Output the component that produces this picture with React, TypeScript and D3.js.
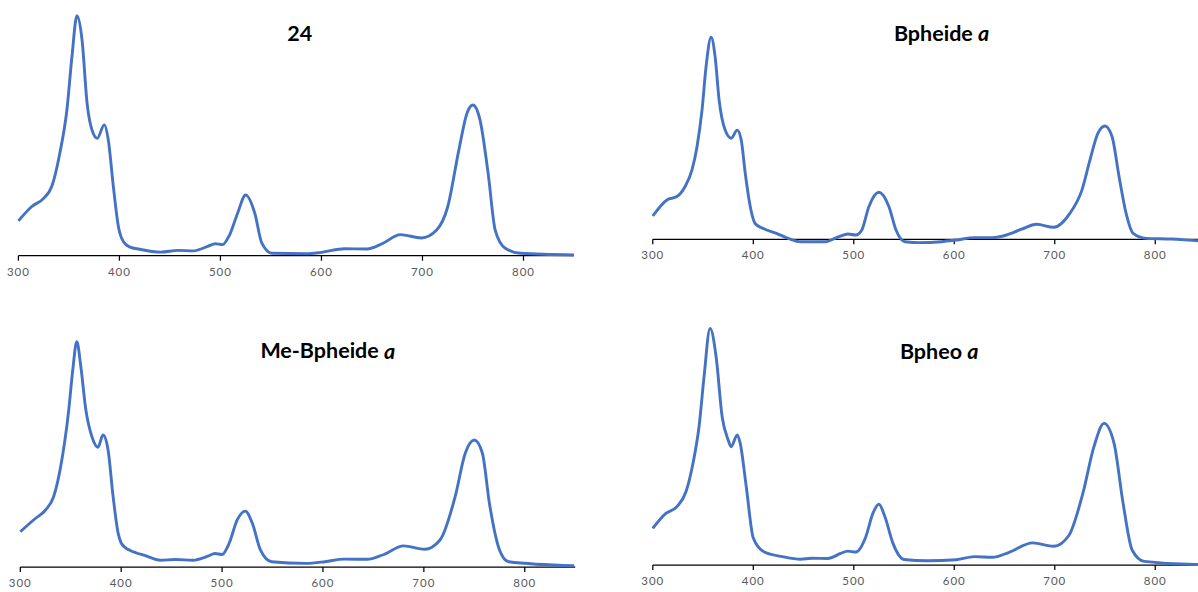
import React from "react";
import * as d3 from "d3";

// absorption spectra, wavelength (nm) vs. relative absorbance
const wl24 = [300, 313, 325, 333, 341, 348, 353, 358, 363, 368, 374, 378, 385, 389, 394, 399, 404, 410, 420, 441, 458, 473, 488, 495, 502, 509, 517, 525, 534, 541, 551, 585, 600, 623, 645, 661, 678, 699, 714, 725, 736, 744, 750, 757, 765, 772, 782, 797, 850];
const abs24 = [0.145, 0.204, 0.239, 0.288, 0.427, 0.607, 0.829, 1.0, 0.899, 0.635, 0.51, 0.489, 0.545, 0.482, 0.288, 0.121, 0.058, 0.037, 0.027, 0.015, 0.022, 0.02, 0.04, 0.05, 0.046, 0.086, 0.177, 0.253, 0.177, 0.052, 0.01, 0.008, 0.014, 0.029, 0.028, 0.052, 0.088, 0.074, 0.107, 0.204, 0.44, 0.593, 0.628, 0.565, 0.343, 0.107, 0.031, 0.01, 0.003];

const wlBpheide = [300, 314, 324, 332, 339, 344, 349, 353, 358, 362, 366, 372, 378, 384, 388, 392, 397, 402, 410, 423, 436, 447, 472, 479, 486, 494, 502, 508, 515, 525, 535, 542, 551, 566, 587, 602, 620, 638, 652, 667, 682, 699, 715, 727, 735, 743, 750, 757, 764, 771, 778, 791, 816, 843, 850];
const absBpheide = [0.097, 0.164, 0.178, 0.219, 0.289, 0.386, 0.539, 0.719, 0.842, 0.761, 0.58, 0.455, 0.421, 0.455, 0.414, 0.275, 0.136, 0.065, 0.045, 0.025, 0.002, -0.01, -0.01, 0, 0.012, 0.022, 0.018, 0.039, 0.136, 0.196, 0.136, 0.039, -0.01, -0.014, -0.01, -0.003, 0.007, 0.007, 0.018, 0.042, 0.0625, 0.05, 0.108, 0.205, 0.33, 0.442, 0.472, 0.428, 0.261, 0.108, 0.025, 0.004, 0.001, -0.006, -0.007];

const wlMeBpheide = [300, 314, 325, 333, 340, 348, 352, 356, 360, 365, 371, 377, 382, 387, 392, 397, 400, 405, 409, 424, 439, 454, 471, 486, 493, 500, 507, 515, 523, 530, 538, 549, 583, 602, 621, 644, 659, 680, 701, 716, 731, 741, 750, 758, 765, 775, 784, 849];
const absMeBpheide = [0.147, 0.199, 0.2375, 0.293, 0.418, 0.654, 0.821, 0.939, 0.835, 0.654, 0.543, 0.499, 0.55, 0.4875, 0.293, 0.14, 0.1, 0.078, 0.069, 0.047, 0.028, 0.031, 0.028, 0.045, 0.056, 0.052, 0.099, 0.196, 0.233, 0.182, 0.071, 0.022, 0.015, 0.022, 0.033, 0.032, 0.05, 0.088, 0.074, 0.1125, 0.293, 0.474, 0.529, 0.474, 0.265, 0.071, 0.022, 0.005];

const wlBpheo = [300, 313, 324, 333, 340, 346, 351, 357, 363, 369, 375, 378, 384, 387, 393, 400, 411, 429, 447, 458, 474, 487, 494, 502, 512, 519, 525, 531, 539, 550, 573, 602, 620, 638, 654, 678, 699, 714, 728, 739, 749, 759, 768, 777, 789, 840, 850];
const absBpheo = [0.153, 0.215, 0.243, 0.305, 0.424, 0.576, 0.785, 0.986, 0.868, 0.618, 0.521, 0.493, 0.542, 0.507, 0.326, 0.1125, 0.054, 0.035, 0.024, 0.028, 0.027, 0.048, 0.058, 0.054, 0.118, 0.215, 0.253, 0.201, 0.09, 0.023, 0.018, 0.022, 0.035, 0.032, 0.052, 0.092, 0.078, 0.123, 0.299, 0.493, 0.59, 0.507, 0.257, 0.0625, 0.015, 0.002, 0.002];

const xTicks = [300, 400, 500, 600, 700, 800];

const panels = [
  { key: "24", name: "24", italic: "", wl: wl24, abs: abs24, x0: 18.4, x1: 574, axisY: 255.7, tx: 299.7, ty: 35 },
  { key: "bpheide", name: "Bpheide ", italic: "a", wl: wlBpheide, abs: absBpheide, x0: 652.8, x1: 1205.5, axisY: 239.3, tx: 941.6, ty: 35 },
  { key: "mebpheide", name: "Me-Bpheide ", italic: "a", wl: wlMeBpheide, abs: absMeBpheide, x0: 20.3, x1: 575.2, axisY: 567, tx: 327.8, ty: 352.7 },
  { key: "bpheo", name: "Bpheo ", italic: "a", wl: wlBpheo, abs: absBpheo, x0: 652.8, x1: 1205.5, axisY: 565, tx: 939.2, ty: 353.3 },
];

function Spectrum({ p }) {
  const xScale = d3.scaleLinear().domain([300, 850]).range([p.x0, p.x1]);
  const yScale = d3.scaleLinear().domain([0, 1]).range([p.axisY, p.axisY - 240]);
  const line = d3
    .line<number>()
    .x((d, i) => xScale(p.wl[i]))
    .y((d) => yScale(d))
    .curve(d3.curveMonotoneX);

  return (
    <g>
      {/* x axis */}
      <line x1={xScale(300)} x2={xScale(850)} y1={yScale(0)} y2={yScale(0)} stroke="#000" strokeWidth={1.25} />
      {xTicks.map((t) => (
        <g key={t}>
          <line x1={xScale(t)} x2={xScale(t)} y1={yScale(0)} y2={yScale(0) + 5} stroke="#000" strokeWidth={1.25} />
          <text
            x={xScale(t)}
            y={yScale(0) + 17}
            textAnchor="middle"
            dominantBaseline="middle"
            fontFamily="Lato, 'Open Sans', sans-serif"
            fontSize={11.5}
            letterSpacing={1}
            fill="#595959"
          >
            {t}
          </text>
        </g>
      ))}

      {/* spectrum */}
      <path d={line(p.abs) || ""} fill="none" stroke="#4472C4" strokeWidth={2.9} strokeLinejoin="round" />

      {/* title */}
      <text
        x={p.tx}
        y={p.ty}
        textAnchor="middle"
        dominantBaseline="middle"
        fontFamily="Lato, 'Open Sans', sans-serif"
        fontWeight="bold"
        fontSize={21.5}
        fill="#000"
      >
        {p.name}
        {p.italic && <tspan fontStyle="italic">{p.italic}</tspan>}
      </text>
    </g>
  );
}

export default function App() {
  return (
    <svg
      width={1198}
      height={592}
      style={{ position: "absolute", left: 0, top: 0, background: "#fff" }}
    >
      {panels.map((p) => (
        <Spectrum key={p.key} p={p} />
      ))}
    </svg>
  );
}
